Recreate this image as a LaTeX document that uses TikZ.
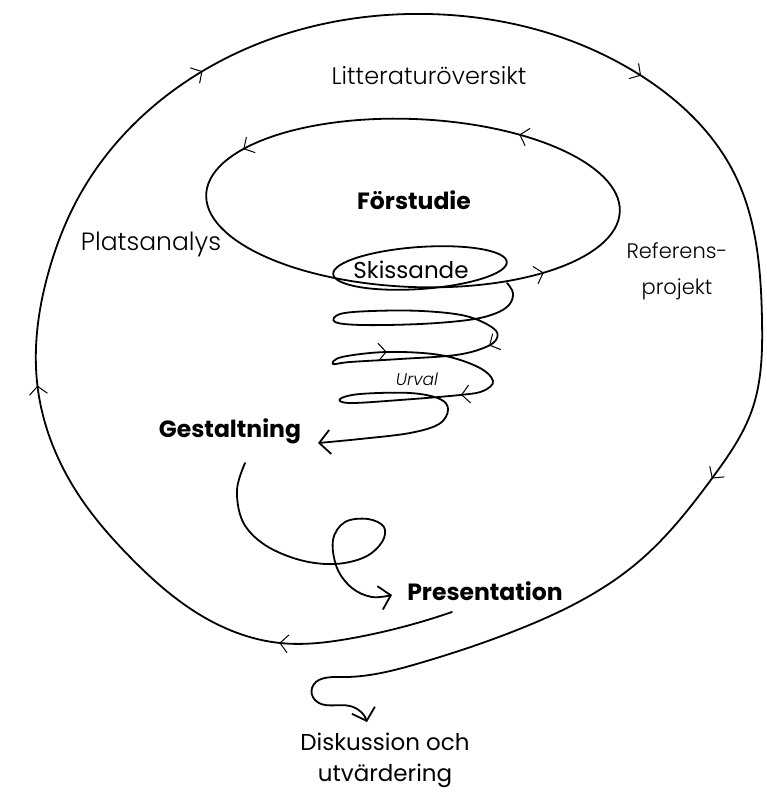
\documentclass[tikz,border=0pt]{standalone}
\usepackage{fontspec}
\setmainfont{Poppins}
\newfontfamily\lightfont{Poppins Light}
\usetikzlibrary{arrows.meta,decorations.markings,positioning,hobby}
\newcommand{\midtip}{\pgfsetlinewidth{1pt}\arrow{Straight Barb[length=8pt,width=18pt]}}

\begin{document}
\begin{tikzpicture}[x=1pt,y=-1pt,
  lightlbl/.style={font=\lightfont\fontsize{24}{34}\selectfont,align=center},
  boldlbl/.style={font=\fontsize{23.5}{28}\selectfont\bfseries},
  midlbl/.style={font=\fontsize{23}{31}\selectfont,align=center},
  smalllbl/.style={font=\lightfont\fontsize{17}{20}\selectfont\itshape},
  curve/.style={line width=1.8pt,line cap=round,line join=round},
  endtip/.style={-{Straight Barb[length=11pt,width=24pt]}},
 ]
\useasboundingbox (0,0) rectangle (766,792);

\node[lightlbl] (lit) at (429,76) {Litteraturöversikt};
\node[lightlbl,font=\lightfont\fontsize{25}{34}\selectfont] (plats) at (151,244) {Platsanalys};
\node[lightlbl,font=\lightfont\fontsize{21}{36}\selectfont] (ref) at (677,271) {Referens-\\projekt};
\node[boldlbl] (forst) at (414,200) {Förstudie};
\node[midlbl] (skiss) at (411,270) {Skissande};
\node[smalllbl] (urval) at (417,379) {Urval};
\node[boldlbl] (gest) at (230,431) {Gestaltning};
\node[boldlbl] (pres) at (485,591) {Presentation};
\node[midlbl] (disk) at (385,760) {Diskussion och\\utvärdering};

\draw[curve,rotate around={-2.4:(413,203)},postaction={decorate},
  decoration={markings,mark=at position 0.141 with {\midtip},
  mark=at position 0.436 with {\midtip},mark=at position 0.892 with {\midtip}}]
  plot[domain=0:360,samples=120,variable=\t] ({413+207*cos(\t)},{203-84*sin(\t)}) -- cycle;
\draw[curve,rotate around={4:(420,268)}] (420,268) ellipse[x radius=87,y radius=21];

\draw[curve,endtip,postaction={decorate},
  decoration={markings,mark=at position 0.345 with {\midtip},
  mark=at position 0.534 with {\midtip},mark=at position 0.667 with {\midtip}}]
  plot[smooth,tension=0.6] coordinates {(507,283) (513,293) (509,305) (494,314) (468,320)
  (420,324) (362,325) (335,322) (340,314) (372,311) (422,311) (466,316) (493,328) (497,338)
  (486,347) (456,355) (400,359) (350,362) (333,364) (342,357) (387,352) (440,355) (478,367)
  (493,381) (483,391) (460,395) (400,400) (350,403) (340,399) (360,394) (410,393) (440,399)
  (448,410) (439,424) (410,433) (360,439) (318,443)};

\draw[curve,endtip] plot[smooth,tension=0.6] coordinates {(245,463) (237,490) (243,522)
  (265,545) (300,560) (335,564) (365,557) (382,542) (384,527) (368,519) (345,522) (333,540)
  (337,568) (352,588) (372,597) (392,595)};

\draw[curve,endtip,postaction={decorate},
  decoration={markings,mark=at position 0.074 with {\midtip},
  mark=at position 0.231 with {\midtip},mark=at position 0.388 with {\midtip},
  mark=at position 0.581 with {\midtip},mark=at position 0.773 with {\midtip}}]
  (452,612) to[curve through={(353,638) (280,643) (197,613) (130,557) (82,500) (38,390)
  (50,267) (77,200) (193,77) (427,14) (640,75) (735,175) (762,320) (752,410) (713,477)
  (637,563) (517,630) (420,663) (340,677) (312,688) (315,700) (350,706)}] (367,722);

\end{tikzpicture}
\end{document}
